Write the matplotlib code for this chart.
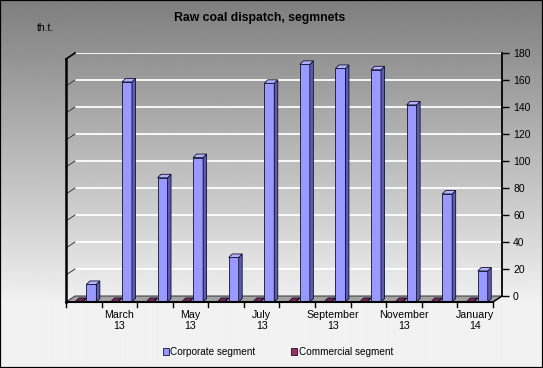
"""
Raw coal dispatch by segment, drawn as an Excel-style 3-D column chart.
"""

import matplotlib
matplotlib.use("Agg")
import matplotlib.pyplot as plt
import matplotlib.patches as mpatches
import numpy as np


# ---------------------------------------------------------------------------
# Data (th.t.)
# ---------------------------------------------------------------------------
months = ["Feb 13", "Mar 13", "Apr 13", "May 13", "Jun 13", "Jul 13",
          "Aug 13", "Sep 13", "Oct 13", "Nov 13", "Dec 13", "Jan 14"]
corporate = [13, 163, 92, 107, 33, 162, 176, 173, 172, 146, 80, 23]
commercial = [0.4, 0.4, 0.4, 0.4, 0.4, 0.4, 0.4, 0.4, 0.4, 0.4, 0.4, 0.4]
tick_labels = ["March\n13", "May\n13", "July\n13",
               "September\n13", "November\n13", "January\n14"]
y_ticks = [0, 20, 40, 60, 80, 100, 120, 140, 160, 180]

W, H = 543, 368


def add_box_faces(ax, bar, side_c, top_c, edge_c, ddx, ddy):
    """Add side and top faces behind a flat bar patch to fake depth."""
    x0, y0 = bar.get_x(), bar.get_y()
    w, h = bar.get_width(), bar.get_height()
    y1 = y0 + h
    side = [(x0 + w, y0), (x0 + w + ddx, y0 + ddy),
            (x0 + w + ddx, y1 + ddy), (x0 + w, y1)]
    top = [(x0, y1), (x0 + w, y1), (x0 + w + ddx, y1 + ddy), (x0 + ddx, y1 + ddy)]
    for pts, fc in ((side, side_c), (top, top_c)):
        ax.add_patch(mpatches.Polygon(pts, closed=True, facecolor=fc,
                                      edgecolor=edge_c, linewidth=0.6,
                                      clip_on=False, zorder=3))


def main():
    plt.rcParams["font.family"] = ["Liberation Sans", "DejaVu Sans"]
    fig = plt.figure(figsize=(W / 100, H / 100), dpi=100)

    # background gradient (dark grey at top -> near white at bottom)
    bg = fig.add_axes([0, 0, 1, 1], zorder=-10)
    bg.axis("off")
    rows = np.arange(H)
    shade = np.clip(0x7e + (0xf0 - 0x7e) * rows / 300, 0, 0xf2) / 255
    bg.imshow(np.repeat(shade[:, None], 2, axis=1), cmap="gray", vmin=0, vmax=1,
              aspect="auto", extent=[0, 1, 0, 1], interpolation="bilinear")

    # back wall box in pixels
    left, top, right, bottom = 75, 53, 502, 296
    ax = fig.add_axes([left / W, 1 - bottom / H, (right - left) / W, (bottom - top) / H])
    ax.patch.set_alpha(0)
    n = len(months)
    ax.set_xlim(0.5, n + 0.5)
    ax.set_ylim(0, 180)

    sx = (right - left) / n
    sy = (bottom - top) / 180
    fdx, fdy = -9 / sx, -6 / sy        # front plane offset
    ddx, ddy = 3.5 / sx, 3.5 / sy      # bar depth

    # grid + right axis
    ax.set_yticks(y_ticks)
    ax.yaxis.grid(True, color="white", linewidth=1.3)
    ax.set_axisbelow(True)
    ax.yaxis.tick_right()
    ax.tick_params(axis="y", length=5, width=1, labelsize=7.5, pad=3, colors="black")
    for s in ("left", "top", "bottom"):
        ax.spines[s].set_visible(False)
    ax.spines["right"].set_linewidth(1.3)

    x = np.arange(1, n + 1)
    ax.set_xticks(x[1::2] + fdx, tick_labels)
    ax.tick_params(axis="x", length=0, pad=10, labelsize=7.7)
    for lab in ax.get_xticklabels():
        lab.set_linespacing(1.1)

    # floor
    ax.add_patch(mpatches.Polygon(
        [(0.5, 0), (n + 0.5, 0), (n + 0.5 + fdx, fdy), (0.5 + fdx, fdy)],
        closed=True, facecolor="#a2a2a2", edgecolor="#404040", linewidth=0.8,
        clip_on=False, zorder=1.5))

    # left wall gridlines and axes lines
    for v in y_ticks[1:]:
        ax.plot([0.5 + fdx, 0.5], [v + fdy, v], color="#3c3c3c", linewidth=0.7,
                clip_on=False, zorder=1.6)
    ax.plot([0.5 + fdx, 0.5 + fdx], [fdy, 180 + fdy], color="black",
            linewidth=1.8, clip_on=False, zorder=4)
    ax.plot([0.5 + fdx, 0.5], [180 + fdy, 180], color="black",
            linewidth=1.2, clip_on=False, zorder=4)
    ax.plot([0.5 + fdx, n + 0.5 + fdx], [fdy, fdy], color="black",
            linewidth=1.5, clip_on=False, zorder=4)
    ax.plot([n + 0.5 + fdx, n + 0.5], [fdy, 0], color="black",
            linewidth=1.0, clip_on=False, zorder=4)
    for b in np.arange(0.5, n + 1, 1):
        ax.plot([b + fdx, b + fdx], [fdy, fdy - 5 / sy], color="black",
                linewidth=1.0, clip_on=False, zorder=4)

    # bars
    series = [
        (commercial, 0.265, 0.20, "#993366", "#6e2048", "#7a2450"),
        (corporate, 0.573, 0.28, "#9999ff", "#5c5cae", "#b3b3ff"),
    ]
    for vals, off, w, front_c, side_c, top_c in series:
        bars = ax.bar(x - 0.5 + fdx + off, vals, width=w, bottom=fdy,
                      align="edge", color=front_c, edgecolor="#101030",
                      linewidth=0.6, clip_on=False, zorder=3)
        for bar in bars:
            add_box_faces(ax, bar, side_c, top_c, "#101030", ddx, ddy)

    # titles
    fig.text(260 / W, 1 - 18.5 / H, "Raw coal dispatch, segmnets",
             ha="center", va="center", fontsize=8.8, fontweight="bold")
    fig.text(37 / W, 1 - 28 / H, "th.t.", ha="left", va="center", fontsize=7.5)

    # legend
    handles = [mpatches.Patch(facecolor="#9999ff", edgecolor="#101030", linewidth=0.6),
               mpatches.Patch(facecolor="#993366", edgecolor="#101030", linewidth=0.6)]
    fig.legend(handles, ["Corporate segment", "Commercial segment"],
               loc="center", bbox_to_anchor=(278 / W, 1 - 352 / H), ncol=2,
               frameon=False, fontsize=7.2, handlelength=0.6, handleheight=0.6,
               handletextpad=0.15, columnspacing=3.6)

    # outer border
    fig.add_artist(mpatches.Rectangle((0, 0), 1, 1, transform=fig.transFigure,
                                      fill=False, edgecolor="black", linewidth=1.6))

    fig.savefig("out.png", dpi=100)
    plt.close(fig)


if __name__ == "__main__":
    main()
